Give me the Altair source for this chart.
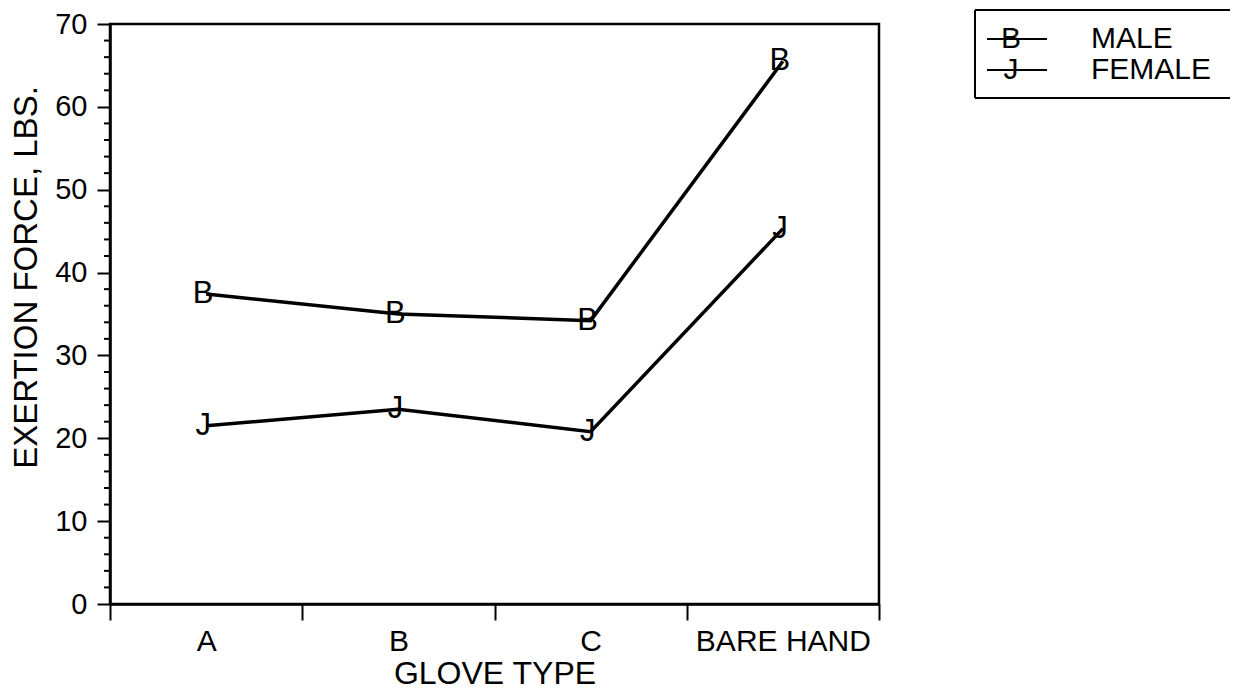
import altair as alt
import pandas as pd

# ---- data ----
categories = ["A", "B", "C", "BARE HAND"]
male = [37.4, 35.0, 34.2, 65.5]
female = [21.5, 23.5, 20.8, 45.3]
series = ["MALE", "FEMALE"]
markers = ["B", "J"]
y_ticks = [0, 10, 20, 30, 40, 50, 60, 70]
minor_ticks = [2, 4, 6, 8, 12, 14, 16, 18, 22, 24, 26, 28, 32, 34, 36, 38,
               42, 44, 46, 48, 52, 54, 56, 58, 62, 64, 66, 68]

rows = []
for s, m, vals in zip(series, markers, [male, female]):
    for c, v in zip(categories, vals):
        rows.append({"glove": c, "force": v, "series": s, "marker": m})
df = pd.DataFrame(rows)

FONT = "Liberation Sans"
W, H = 769, 580

x = alt.X(
    "glove:N", sort=categories,
    scale=alt.Scale(domain=categories, paddingInner=0, paddingOuter=0),
    axis=alt.Axis(
        title="GLOVE TYPE", tickBand="extent", tickSize=16, tickWidth=2,
        tickColor="black", domainColor="black", domainWidth=2.5,
        labelAngle=0, labelFont=FONT, labelFontSize=30, labelColor="black",
        labelPadding=6, titleFont=FONT, titleFontSize=32,
        titleFontWeight="normal", titleColor="black", titlePadding=2,
    ),
)
y = alt.Y(
    "force:Q",
    scale=alt.Scale(domain=[0, 70], nice=False, zero=True),
    axis=alt.Axis(
        title="EXERTION FORCE, LBS.", values=y_ticks, grid=False,
        tickSize=13, tickWidth=2, tickColor="black", domainColor="black",
        domainWidth=2.5, labelFont=FONT, labelFontSize=29, labelColor="black",
        labelPadding=10, titleFont=FONT, titleFontSize=33,
        titleFontWeight="normal", titleColor="black", titleX=-67, titleY=253,
    ),
)

lines = alt.Chart(df).mark_line(color="black", strokeWidth=3.5).encode(
    x=x, y=y, detail="series:N"
)
letters = alt.Chart(df).mark_text(
    font=FONT, fontSize=31, color="black", dx=-3, baseline="middle"
).encode(x=x, y=y, text="marker:N")
minor = alt.Chart(pd.DataFrame({"force": minor_ticks})).mark_rule(
    color="black", strokeWidth=2
).encode(y=y, x=alt.value(-6), x2=alt.value(0))

main = alt.layer(minor, lines, letters).properties(
    width=W, height=H, view=alt.ViewBackground(stroke="black", strokeWidth=2.5)
)

# ---- legend panel ----
LW, LH = 255, 74
leg_df = pd.DataFrame({"series": series, "marker": markers})
ly = alt.Y("series:N", sort=series,
           scale=alt.Scale(type="point", domain=series, range=[15, 46], padding=0),
           axis=None)
box_df = pd.DataFrame({"k": [0]})
box_top = alt.Chart(box_df).mark_rule(color="black", strokeWidth=2).encode(
    x=alt.value(0), x2=alt.value(LW), y=alt.value(-14))
box_bot = alt.Chart(box_df).mark_rule(color="black", strokeWidth=2).encode(
    x=alt.value(0), x2=alt.value(LW), y=alt.value(LH))
box_left = alt.Chart(box_df).mark_rule(color="black", strokeWidth=2).encode(
    x=alt.value(0), y=alt.value(-14), y2=alt.value(LH))
sym_line = alt.Chart(leg_df).mark_rule(color="black", strokeWidth=2).encode(
    y=ly, x=alt.value(12), x2=alt.value(72))
sym_txt = alt.Chart(leg_df).mark_text(
    font=FONT, fontSize=30, color="black", baseline="middle").encode(
    y=ly, x=alt.value(36), text="marker:N")
lab_txt = alt.Chart(leg_df).mark_text(
    font=FONT, fontSize=30, color="black", align="left", baseline="middle").encode(
    y=ly, x=alt.value(116), text="series:N")

legend = alt.layer(box_top, box_bot, box_left, sym_line, sym_txt, lab_txt).properties(
    width=LW, height=LH
)

chart = alt.hconcat(main, legend, spacing=96, bounds="flush").properties(
    padding={"left": 0, "top": 0, "right": 0, "bottom": 0}
).configure_view(stroke="transparent")

chart.save("out.html", embed_options={"renderer": "svg", "actions": False})
